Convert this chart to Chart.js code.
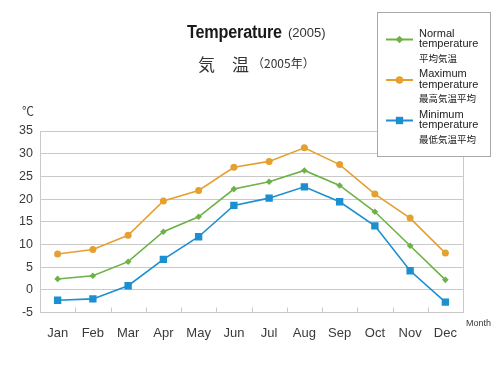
<!DOCTYPE html>
<html>
<head>
<meta charset="utf-8">
<script src="https://cdn.jsdelivr.net/npm/chart.js@4.4.1/dist/chart.umd.min.js"></script>
<style>
  html, body { margin: 0; padding: 0; background: #fff; }
  #wrap { position: relative; width: 500px; height: 368px; overflow: hidden; }
  #c { position: absolute; left: 0; top: 0; }
  .t { position: absolute; white-space: nowrap; color: #1a1a1a; }
  #t1 { left: 186.5px; top: 22.5px; font: bold 18px "Liberation Sans", Arial, sans-serif; line-height: 18px; transform: scaleX(0.9); transform-origin: left top; letter-spacing: -0.2px; }
  #t1b { left: 288px; top: 25.5px; font: 13px "Liberation Sans", Arial, sans-serif; line-height: 13px; color: #333; }
  #t2 { left: 198px; top: 54.5px; font: 17px "Noto Sans CJK JP", sans-serif; line-height: 17px; color: #333; }
  #t2b { left: 252px; top: 57px; font: 12px "Noto Sans CJK JP", sans-serif; line-height: 12px; color: #333; }
</style>
</head>
<body>
<div id="wrap">
  <canvas id="c" width="500" height="368"></canvas>
  <div class="t" id="t1">Temperature</div>
  <div class="t" id="t1b">(2005)</div>
  <div class="t" id="t2">気　温</div>
  <div class="t" id="t2b">（2005年）</div>
</div>
<script>
// ---- data ----
const months = ['Jan', 'Feb', 'Mar', 'Apr', 'May', 'Jun', 'Jul', 'Aug', 'Sep', 'Oct', 'Nov', 'Dec'];
const normalTemp = [2.4, 3.1, 6.2, 12.8, 16.1, 22.2, 23.8, 26.3, 23.0, 17.2, 9.7, 2.2];
const maxTemp = [7.9, 8.9, 12.0, 19.6, 21.9, 27.0, 28.3, 31.3, 27.6, 21.1, 15.8, 8.1];
const minTemp = [-2.3, -2.0, 0.9, 6.7, 11.7, 18.6, 20.2, 22.7, 19.4, 14.1, 4.2, -2.7];
const yTicks = [-5, 0, 5, 10, 15, 20, 25, 30, 35];
const legendEn = [['Normal', 'temperature'], ['Maximum', 'temperature'], ['Minimum', 'temperature']];
const legendJa = ['平均気温', '最高気温平均', '最低気温平均'];
const yUnit = '℃';
const xUnit = 'Month';

const GREEN = '#6cb245';
const ORANGE = '#e5a030';
const BLUE = '#1b8fcf';
const GRID = '#c9c9c9';
const LBL = '#3a3a3a';

function drawMarker(ctx, style, x, y, r, color) {
  ctx.fillStyle = color;
  ctx.beginPath();
  if (style === 'circle') {
    ctx.arc(x, y, r, 0, Math.PI * 2);
  } else if (style === 'rectRot') {
    ctx.moveTo(x, y - r); ctx.lineTo(x + r, y); ctx.lineTo(x, y + r); ctx.lineTo(x - r, y);
    ctx.closePath();
  } else {
    const s = r * Math.SQRT1_2;
    ctx.rect(x - s, y - s, 2 * s, 2 * s);
  }
  ctx.fill();
}

const decor = {
  id: 'decor',
  beforeDatasetsDraw(chart) {
    const { ctx, chartArea: a, scales: { x, y } } = chart;
    ctx.save();
    ctx.strokeStyle = GRID;
    ctx.lineWidth = 1;
    ctx.beginPath();
    ctx.moveTo(Math.round(a.right) + 0.5, a.top);
    ctx.lineTo(Math.round(a.right) + 0.5, a.bottom);
    for (let i = 1; i < months.length; i++) {
      const px = Math.round((x.getPixelForValue(i - 1) + x.getPixelForValue(i)) / 2) + 0.5;
      ctx.moveTo(px, a.bottom);
      ctx.lineTo(px, a.bottom - 5);
    }
    ctx.stroke();
    ctx.fillStyle = LBL;
    ctx.font = '12px "Noto Sans CJK JP", sans-serif';
    ctx.textAlign = 'right';
    ctx.textBaseline = 'middle';
    ctx.fillText(yUnit, 34, y.getPixelForValue(35) - 20);
    ctx.font = '9px "Liberation Sans", Arial, sans-serif';
    ctx.textAlign = 'left';
    ctx.fillText(xUnit, 466, a.bottom + 11);
    ctx.restore();
  },
  afterDraw(chart) {
    const { ctx } = chart;
    ctx.save();
    ctx.fillStyle = '#fff';
    ctx.fillRect(377.5, 12.5, 113, 144);
    ctx.strokeStyle = '#a8a8a8';
    ctx.lineWidth = 1;
    ctx.strokeRect(377.5, 12.5, 113, 144);
    chart.data.datasets.forEach((ds, i) => {
      const top = 33.5 + i * 40.5;
      const my = top + 6;
      ctx.strokeStyle = ds.borderColor;
      ctx.lineWidth = 2;
      ctx.beginPath();
      ctx.moveTo(386, my); ctx.lineTo(413, my);
      ctx.stroke();
      drawMarker(ctx, ds.pointStyle, 399.5, my, ds.pointStyle === 'rect' ? 5.2 : 3.8, ds.borderColor);
      ctx.fillStyle = '#222';
      ctx.textAlign = 'left';
      ctx.textBaseline = 'middle';
      ctx.font = '11px "Liberation Sans", Arial, sans-serif';
      ctx.fillText(legendEn[i][0], 419, top);
      ctx.fillText(legendEn[i][1], 419, top + 10.5);
      ctx.font = '9.5px "Noto Sans CJK JP", sans-serif';
      ctx.fillText(legendJa[i], 419, top + 24.5);
    });
    ctx.restore();
  }
};

new Chart(document.getElementById('c'), {
  type: 'line',
  data: {
    labels: months,
    datasets: [
      { label: legendEn[0].join(' '), data: normalTemp, borderColor: GREEN, backgroundColor: GREEN,
        pointStyle: 'rectRot', pointRadius: 3.3, pointBorderWidth: 0, borderWidth: 1.6, tension: 0 },
      { label: legendEn[1].join(' '), data: maxTemp, borderColor: ORANGE, backgroundColor: ORANGE,
        pointStyle: 'circle', pointRadius: 3.5, pointBorderWidth: 0, borderWidth: 1.6, tension: 0 },
      { label: legendEn[2].join(' '), data: minTemp, borderColor: BLUE, backgroundColor: BLUE,
        pointStyle: 'rect', pointRadius: 5.2, pointBorderWidth: 0, borderWidth: 1.6, tension: 0 }
    ]
  },
  options: {
    responsive: false,
    animation: false,
    devicePixelRatio: 1,
    layout: { padding: { left: 0, right: 37, top: 131, bottom: 0 } },
    plugins: { legend: { display: false }, title: { display: false }, tooltip: { enabled: false } },
    scales: {
      x: {
        offset: true,
        grid: { display: false, drawTicks: false },
        border: { display: true, color: GRID, width: 1 },
        ticks: { color: LBL, padding: 13, font: { family: '"Liberation Sans", Arial, sans-serif', size: 13 }, maxRotation: 0, autoSkip: false },
        afterFit(s) { s.height = 55.5; }
      },
      y: {
        min: yTicks[0], max: yTicks[yTicks.length - 1],
        afterBuildTicks(s) { s.ticks = yTicks.map(v => ({ value: v })); },
        grid: { color: GRID, lineWidth: 1, drawTicks: false },
        border: { display: true, color: GRID, width: 1 },
        ticks: { color: LBL, padding: 7, font: { family: '"Liberation Sans", Arial, sans-serif', size: 12.5 } },
        afterFit(s) { s.width = 40; }
      }
    }
  },
  plugins: [decor]
});
</script>
</body>
</html>
